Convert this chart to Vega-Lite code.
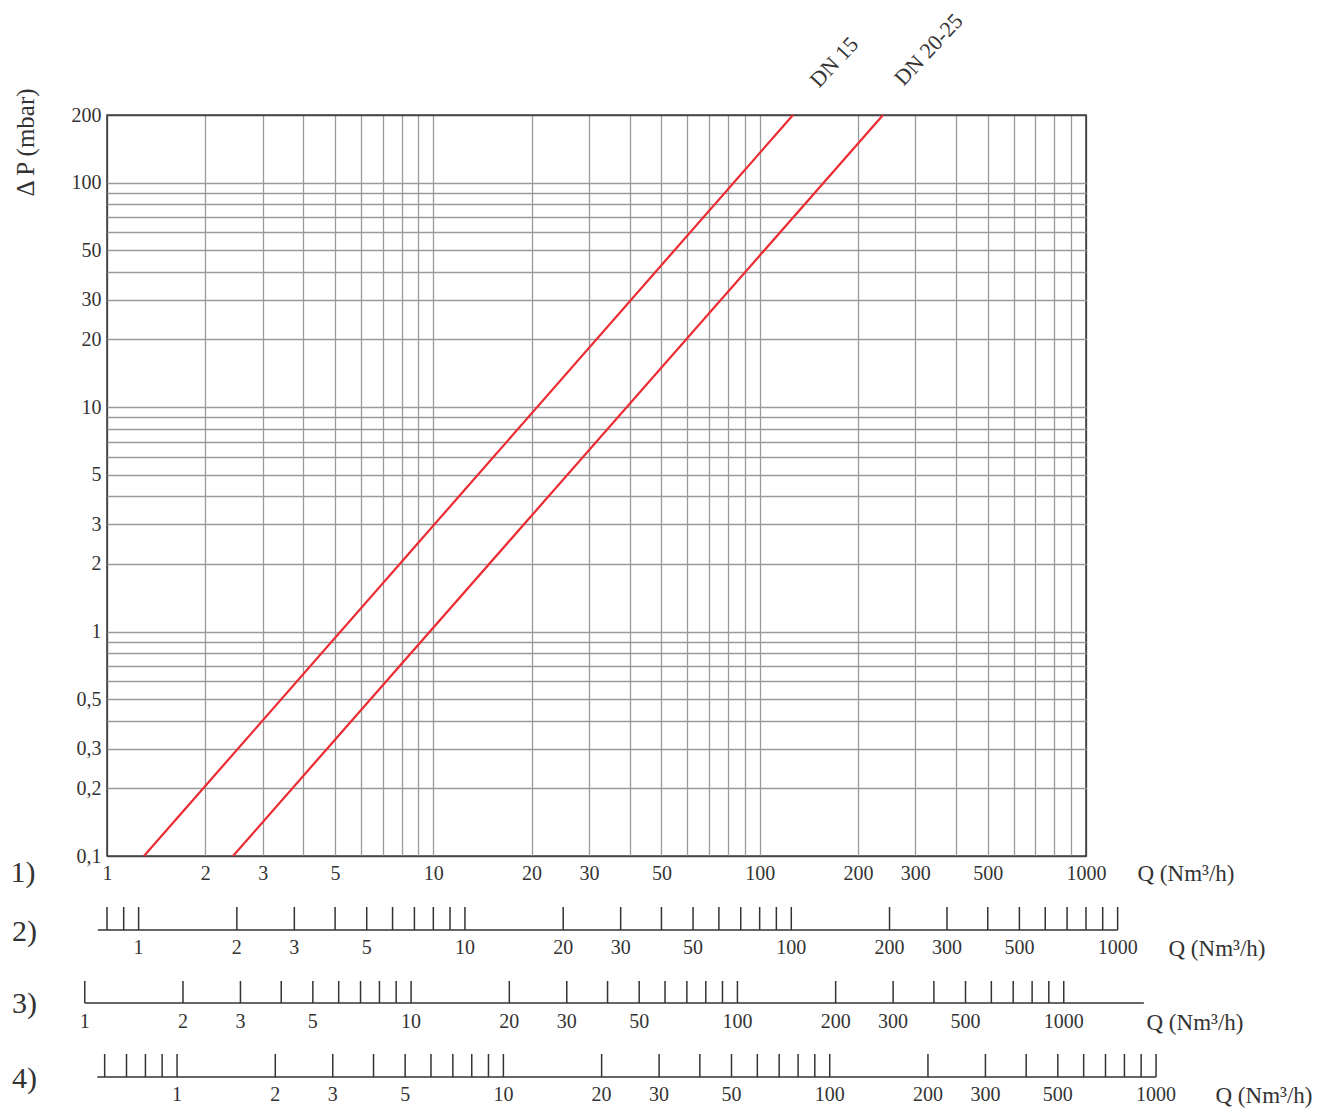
{
  "$schema": "https://vega.github.io/schema/vega-lite/v6.json",
  "autosize": {"type": "pad"},
  "padding": {"left": 9, "top": 8, "right": 5, "bottom": 5},
  "background": "white",
  "bounds": "flush",
  "spacing": 51,
  "datasets": {
    "curves": [
      {"series": "DN 15", "Q": 1.298, "dP": 0.1},
      {"series": "DN 15", "Q": 126.5, "dP": 200},
      {"series": "DN 20-25", "Q": 2.433, "dP": 0.1},
      {"series": "DN 20-25", "Q": 238.8, "dP": 200}
    ],
    "curveLabels": [
      {"label": "DN 15", "Q": 152, "dP": 262},
      {"label": "DN 20-25", "Q": 276, "dP": 267}
    ],
    "rowLabel1": [{"label": "1)", "Q": 0.553, "dP": 0.084}],
    "scaleLabels": [
      {"Q": 1, "label": "1"}, {"Q": 2, "label": "2"}, {"Q": 3, "label": "3"}, {"Q": 5, "label": "5"},
      {"Q": 10, "label": "10"}, {"Q": 20, "label": "20"}, {"Q": 30, "label": "30"}, {"Q": 50, "label": "50"},
      {"Q": 100, "label": "100"}, {"Q": 200, "label": "200"}, {"Q": 300, "label": "300"}, {"Q": 500, "label": "500"},
      {"Q": 1000, "label": "1000"}
    ],
    "ticks2": [
      {"Q": 0.8}, {"Q": 0.9}, {"Q": 1}, {"Q": 2}, {"Q": 3}, {"Q": 4}, {"Q": 5}, {"Q": 6}, {"Q": 7}, {"Q": 8}, {"Q": 9},
      {"Q": 10}, {"Q": 20}, {"Q": 30}, {"Q": 40}, {"Q": 50}, {"Q": 60}, {"Q": 70}, {"Q": 80}, {"Q": 90},
      {"Q": 100}, {"Q": 200}, {"Q": 300}, {"Q": 400}, {"Q": 500}, {"Q": 600}, {"Q": 700}, {"Q": 800}, {"Q": 900}, {"Q": 1000}
    ],
    "base2": [{"Q": 0.75, "Q2": 1000}],
    "ticks3": [
      {"Q": 1}, {"Q": 2}, {"Q": 3}, {"Q": 4}, {"Q": 5}, {"Q": 6}, {"Q": 7}, {"Q": 8}, {"Q": 9},
      {"Q": 10}, {"Q": 20}, {"Q": 30}, {"Q": 40}, {"Q": 50}, {"Q": 60}, {"Q": 70}, {"Q": 80}, {"Q": 90},
      {"Q": 100}, {"Q": 200}, {"Q": 300}, {"Q": 400}, {"Q": 500}, {"Q": 600}, {"Q": 700}, {"Q": 800}, {"Q": 900}, {"Q": 1000}
    ],
    "base3": [{"Q": 1, "Q2": 1760}],
    "ticks4": [
      {"Q": 0.6}, {"Q": 0.7}, {"Q": 0.8}, {"Q": 0.9}, {"Q": 1}, {"Q": 2}, {"Q": 3}, {"Q": 4}, {"Q": 5}, {"Q": 6}, {"Q": 7}, {"Q": 8}, {"Q": 9},
      {"Q": 10}, {"Q": 20}, {"Q": 30}, {"Q": 40}, {"Q": 50}, {"Q": 60}, {"Q": 70}, {"Q": 80}, {"Q": 90},
      {"Q": 100}, {"Q": 200}, {"Q": 300}, {"Q": 400}, {"Q": 500}, {"Q": 600}, {"Q": 700}, {"Q": 800}, {"Q": 900}, {"Q": 1000}
    ],
    "base4": [{"Q": 0.57, "Q2": 1000}]
  },
  "config": {
    "font": "Liberation Serif",
    "view": {"stroke": null},
    "axis": {
      "labelFont": "Liberation Serif",
      "titleFont": "Liberation Serif",
      "labelColor": "#333",
      "titleColor": "#333",
      "titleFontWeight": "normal",
      "labelFontSize": 20,
      "titleFontSize": 23,
      "labelFlush": false,
      "labelOverlap": false
    }
  },
  "vconcat": [
    {
      "width": 979,
      "height": 741,
      "view": {"stroke": "#444", "strokeWidth": 1.6},
      "layer": [
        {
          "data": {"name": "curves"},
          "mark": {"type": "line", "color": "#ec2a32", "strokeWidth": 2.2},
          "encoding": {
            "x": {
              "field": "Q", "type": "quantitative",
              "scale": {"type": "log", "domain": [1, 1000], "nice": false},
              "axis": {
                "values": [1,2,3,4,5,6,7,8,9,10,20,30,40,50,60,70,80,90,100,200,300,400,500,600,700,800,900,1000],
                "labelExpr": "indexof([1,2,3,5,10,20,30,50,100,200,300,500,1000], datum.value) >= 0 ? format(datum.value, 'd') : ''",
                "ticks": false, "domain": false, "grid": true,
                "gridColor": {"condition": {"test": "datum.value === 1 || datum.value === 1000", "value": "#444"}, "value": "#9a9a9a"},
                "gridWidth": 1.3,
                "labelPadding": 17, "labelBaseline": "middle",
                "title": "Q (Nm³/h)", "titleX": 1030, "titleY": 17,
                "titleAlign": "left", "titleBaseline": "middle", "titleAngle": 0
              }
            },
            "y": {
              "field": "dP", "type": "quantitative",
              "scale": {"type": "log", "domain": [0.1, 200], "nice": false},
              "axis": {
                "values": [0.1,0.2,0.3,0.4,0.5,0.6,0.7,0.8,0.9,1,2,3,4,5,6,7,8,9,10,20,30,40,50,60,70,80,90,100,200],
                "labelExpr": "indexof([0.1,0.2,0.3,0.5,1,2,3,5,10,20,30,50,100,200], datum.value) >= 0 ? replace(format(datum.value, '~g'), '.', ',') : ''",
                "ticks": false, "domain": false, "grid": true,
                "gridColor": {"condition": {"test": "datum.value === 0.1 || datum.value === 200", "value": "#444"}, "value": "#9a9a9a"},
                "gridWidth": 1.3,
                "labelPadding": 6,
                "title": "Δ P (mbar)", "titleX": -82, "titleY": 27,
                "titleAngle": -90, "titleAlign": "center", "titleBaseline": "middle", "titleFontSize": 25
              }
            },
            "detail": {"field": "series", "type": "nominal"}
          }
        },
        {
          "data": {"name": "curveLabels"},
          "mark": {"type": "text", "angle": -47, "align": "left", "baseline": "alphabetic", "font": "Liberation Serif", "fontSize": 22, "color": "#333"},
          "encoding": {
            "x": {"field": "Q", "type": "quantitative"},
            "y": {"field": "dP", "type": "quantitative"},
            "text": {"field": "label"}
          }
        },
        {
          "data": {"name": "rowLabel1"},
          "mark": {"type": "text", "align": "center", "baseline": "middle", "font": "Liberation Serif", "fontSize": 30, "color": "#333"},
          "encoding": {
            "x": {"field": "Q", "type": "quantitative"},
            "y": {"field": "dP", "type": "quantitative"},
            "text": {"field": "label"}
          }
        }
      ]
    },
    {
      "width": 979,
      "height": 23,
      "layer": [
        {
          "data": {"name": "ticks2"},
          "mark": {"type": "rule", "color": "#333", "strokeWidth": 1.5},
          "encoding": {
            "x": {
              "field": "Q", "type": "quantitative",
              "scale": {"type": "log", "domain": [0.8, 800], "nice": false},
              "axis": {
                "labels": false, "ticks": false, "domain": false, "grid": false,
                "title": "Q (Nm³/h)", "titleX": 1061, "titleY": 18,
                "titleAlign": "left", "titleBaseline": "middle", "titleAngle": 0
              }
            }
          }
        },
        {
          "data": {"name": "base2"},
          "mark": {"type": "rule", "color": "#333", "strokeWidth": 1.5},
          "encoding": {
            "x": {"field": "Q", "type": "quantitative"},
            "x2": {"field": "Q2"},
            "y": {
              "datum": 0, "type": "quantitative",
              "scale": {"domain": [0, 1]},
              "axis": {"labels": false, "ticks": false, "domain": false, "grid": false,
                "title": "2)", "titleX": -83, "titleY": 24, "titleAngle": 0,
                "titleAlign": "center", "titleBaseline": "middle", "titleFontSize": 30}
            }
          }
        },
        {
          "data": {"name": "scaleLabels"},
          "mark": {"type": "text", "align": "center", "baseline": "middle", "font": "Liberation Serif", "fontSize": 20, "color": "#333"},
          "encoding": {
            "x": {"field": "Q", "type": "quantitative"},
            "y": {"datum": -0.78, "type": "quantitative"},
            "text": {"field": "label"}
          }
        }
      ]
    },
    {
      "width": 979,
      "height": 22,
      "layer": [
        {
          "data": {"name": "ticks3"},
          "mark": {"type": "rule", "color": "#333", "strokeWidth": 1.5},
          "encoding": {
            "x": {
              "field": "Q", "type": "quantitative",
              "scale": {"type": "log", "domain": [1.17, 1170], "nice": false},
              "axis": {
                "labels": false, "ticks": false, "domain": false, "grid": false,
                "title": "Q (Nm³/h)", "titleX": 1039, "titleY": 19,
                "titleAlign": "left", "titleBaseline": "middle", "titleAngle": 0
              }
            }
          }
        },
        {
          "data": {"name": "base3"},
          "mark": {"type": "rule", "color": "#333", "strokeWidth": 1.5},
          "encoding": {
            "x": {"field": "Q", "type": "quantitative"},
            "x2": {"field": "Q2"},
            "y": {
              "datum": 0, "type": "quantitative",
              "scale": {"domain": [0, 1]},
              "axis": {"labels": false, "ticks": false, "domain": false, "grid": false,
                "title": "3)", "titleX": -83, "titleY": 22, "titleAngle": 0,
                "titleAlign": "center", "titleBaseline": "middle", "titleFontSize": 30}
            }
          }
        },
        {
          "data": {"name": "scaleLabels"},
          "mark": {"type": "text", "align": "center", "baseline": "middle", "font": "Liberation Serif", "fontSize": 20, "color": "#333"},
          "encoding": {
            "x": {"field": "Q", "type": "quantitative"},
            "y": {"datum": -0.86, "type": "quantitative"},
            "text": {"field": "label"}
          }
        }
      ]
    },
    {
      "width": 979,
      "height": 23,
      "layer": [
        {
          "data": {"name": "ticks4"},
          "mark": {"type": "rule", "color": "#333", "strokeWidth": 1.5},
          "encoding": {
            "x": {
              "field": "Q", "type": "quantitative",
              "scale": {"type": "log", "domain": [0.61, 610], "nice": false},
              "axis": {
                "labels": false, "ticks": false, "domain": false, "grid": false,
                "title": "Q (Nm³/h)", "titleX": 1108, "titleY": 18,
                "titleAlign": "left", "titleBaseline": "middle", "titleAngle": 0
              }
            }
          }
        },
        {
          "data": {"name": "base4"},
          "mark": {"type": "rule", "color": "#333", "strokeWidth": 1.5},
          "encoding": {
            "x": {"field": "Q", "type": "quantitative"},
            "x2": {"field": "Q2"},
            "y": {
              "datum": 0, "type": "quantitative",
              "scale": {"domain": [0, 1]},
              "axis": {"labels": false, "ticks": false, "domain": false, "grid": false,
                "title": "4)", "titleX": -83, "titleY": 24, "titleAngle": 0,
                "titleAlign": "center", "titleBaseline": "middle", "titleFontSize": 30}
            }
          }
        },
        {
          "data": {"name": "scaleLabels"},
          "mark": {"type": "text", "align": "center", "baseline": "middle", "font": "Liberation Serif", "fontSize": 20, "color": "#333"},
          "encoding": {
            "x": {"field": "Q", "type": "quantitative"},
            "y": {"datum": -0.78, "type": "quantitative"},
            "text": {"field": "label"}
          }
        }
      ]
    }
  ]
}
